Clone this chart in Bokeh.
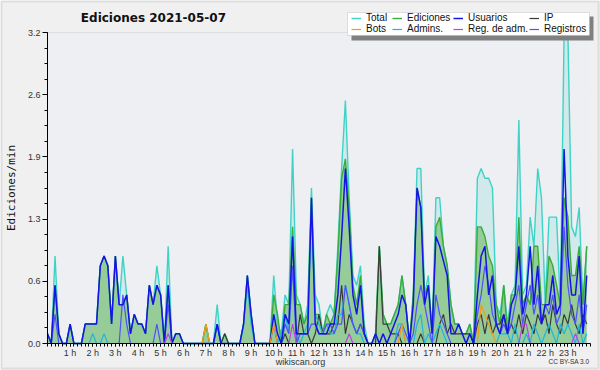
from bokeh.plotting import figure
from bokeh.models import (Range1d, FixedTicker, NumeralTickFormatter, Legend,
                          LegendItem, Label, BoxAnnotation, ColumnDataSource)
from bokeh.embed import file_html
from bokeh.resources import INLINE

# 10-minute slots of the day 2021-05-07 (edits per minute)
slot_minutes = list(range(0, 1440, 10))

total = [
    0.1, 0.0, 0.9, 0.1, 0.0, 0.0,
    0.2, 0.0, 0.0, 0.0, 0.2, 0.2,
    0.2, 0.2, 0.8, 0.9, 0.8, 0.2,
    0.9, 0.4, 0.9, 0.5, 0.1, 0.3,
    0.2, 0.2, 0.1, 0.6, 0.4, 0.8,
    0.5, 0.0, 1.0, 0.0, 0.1, 0.1,
    0.0, 0.0, 0.0, 0.0, 0.0, 0.0,
    0.2, 0.0, 0.0, 0.4, 0.0, 0.1,
    0.0, 0.0, 0.0, 0.0, 0.2, 0.7,
    0.3, 0.0, 0.0, 0.0, 0.0, 0.0,
    0.7, 0.2, 0.1, 0.5, 0.4, 2.0,
    0.5, 0.4, 0.2, 0.4, 1.6, 0.5,
    0.4, 0.1, 0.3, 0.4, 0.3, 1.0,
    1.8, 2.5, 1.5, 0.7, 0.6, 0.8,
    0.2, 0.0, 0.0, 0.1, 1.0, 0.3,
    0.2, 0.2, 0.3, 0.4, 0.7, 0.4,
    0.0, 0.5, 1.8, 1.8, 0.5, 0.7,
    0.1, 1.5, 1.5, 1.0, 0.8, 0.4,
    0.2, 0.2, 0.1, 0.1, 0.2, 0.0,
    1.7, 1.8, 1.7, 1.7, 1.6, 0.4,
    0.3, 0.6, 0.2, 0.5, 0.6, 2.3,
    0.5, 0.6, 1.3, 1.0, 1.8, 1.5,
    0.4, 1.3, 1.3, 1.3, 0.4, 3.2,
    3.2, 1.2, 1.1, 1.4, 0.4, 1.0,
]

ediciones = [
    0.1, 0.0, 0.6, 0.1, 0.0, 0.0,
    0.2, 0.0, 0.0, 0.0, 0.2, 0.2,
    0.2, 0.2, 0.8, 0.9, 0.8, 0.2,
    0.9, 0.4, 0.4, 0.5, 0.1, 0.3,
    0.2, 0.2, 0.1, 0.6, 0.4, 0.6,
    0.5, 0.0, 0.6, 0.0, 0.1, 0.1,
    0.0, 0.0, 0.0, 0.0, 0.0, 0.0,
    0.2, 0.0, 0.0, 0.2, 0.0, 0.1,
    0.0, 0.0, 0.0, 0.0, 0.2, 0.7,
    0.3, 0.0, 0.0, 0.0, 0.0, 0.0,
    0.5, 0.3, 0.0, 0.4, 0.4, 1.2,
    0.4, 0.4, 0.2, 0.3, 1.5, 0.3,
    0.3, 0.1, 0.3, 0.2, 0.3, 0.9,
    1.7, 1.9, 1.4, 0.6, 0.4, 0.7,
    0.1, 0.0, 0.0, 0.1, 1.0, 0.3,
    0.2, 0.2, 0.3, 0.4, 0.7, 0.4,
    0.0, 0.5, 1.6, 1.4, 0.5, 0.6,
    0.1, 1.2, 1.3, 1.0, 0.8, 0.4,
    0.2, 0.2, 0.1, 0.1, 0.2, 0.0,
    1.2, 1.2, 1.1, 0.9, 0.8, 0.4,
    0.2, 0.6, 0.1, 0.5, 0.5, 1.3,
    0.4, 0.5, 0.4, 1.0, 1.0, 0.4,
    0.4, 0.9, 0.8, 0.6, 0.4, 1.5,
    1.3, 0.7, 0.7, 1.0, 0.4, 1.0,
]

usuarios = [
    0.1, 0.0, 0.6, 0.1, 0.0, 0.0,
    0.2, 0.0, 0.0, 0.0, 0.2, 0.2,
    0.2, 0.2, 0.8, 0.9, 0.8, 0.2,
    0.9, 0.4, 0.4, 0.5, 0.1, 0.3,
    0.2, 0.2, 0.1, 0.6, 0.4, 0.6,
    0.5, 0.0, 0.6, 0.0, 0.1, 0.1,
    0.0, 0.0, 0.0, 0.0, 0.0, 0.0,
    0.0, 0.0, 0.0, 0.2, 0.0, 0.0,
    0.0, 0.0, 0.0, 0.0, 0.2, 0.7,
    0.3, 0.0, 0.0, 0.0, 0.0, 0.0,
    0.3, 0.1, 0.0, 0.3, 0.2, 1.1,
    0.1, 0.1, 0.1, 0.1, 1.5, 0.2,
    0.1, 0.1, 0.1, 0.2, 0.2, 0.5,
    1.1, 1.8, 1.2, 0.5, 0.3, 0.6,
    0.1, 0.0, 0.0, 0.1, 0.0, 0.1,
    0.0, 0.1, 0.2, 0.3, 0.5, 0.4,
    0.0, 0.4, 1.6, 1.4, 0.4, 0.6,
    0.1, 1.1, 1.0, 0.85, 0.7, 0.1,
    0.1, 0.2, 0.1, 0.0, 0.1, 0.0,
    0.5, 0.9, 1.0, 0.5, 0.7, 0.2,
    0.1, 0.3, 0.1, 0.4, 0.5, 1.0,
    0.3, 0.5, 1.0, 0.4, 0.8, 0.2,
    0.4, 0.4, 0.7, 0.3, 0.4, 2.0,
    0.9, 0.5, 0.5, 0.9, 0.1, 0.7,
]

ip = [
    0.0, 0.0, 0.0, 0.0, 0.0, 0.0,
    0.0, 0.0, 0.0, 0.0, 0.0, 0.0,
    0.0, 0.0, 0.0, 0.0, 0.0, 0.0,
    0.0, 0.0, 0.0, 0.0, 0.0, 0.0,
    0.0, 0.0, 0.0, 0.0, 0.0, 0.0,
    0.0, 0.0, 0.0, 0.0, 0.0, 0.0,
    0.0, 0.0, 0.0, 0.0, 0.0, 0.0,
    0.0, 0.0, 0.0, 0.0, 0.0, 0.1,
    0.0, 0.0, 0.0, 0.0, 0.0, 0.0,
    0.0, 0.0, 0.0, 0.0, 0.0, 0.0,
    0.0, 0.0, 0.0, 0.1, 0.0, 0.0,
    0.0, 0.3, 0.1, 0.1, 0.0, 0.1,
    0.3, 0.1, 0.1, 0.1, 0.2, 0.2,
    0.6, 0.1, 0.3, 0.2, 0.1, 0.2,
    0.1, 0.0, 0.0, 0.0, 1.0, 0.2,
    0.2, 0.1, 0.1, 0.1, 0.0, 0.0,
    0.0, 0.0, 0.0, 0.1, 0.0, 0.0,
    0.0, 0.0, 0.2, 0.3, 0.1, 0.2,
    0.1, 0.1, 0.1, 0.1, 0.1, 0.0,
    0.2, 0.3, 0.1, 0.3, 0.1, 0.2,
    0.2, 0.3, 0.1, 0.2, 0.1, 0.3,
    0.1, 0.3, 0.2, 0.1, 0.3, 0.2,
    0.3, 0.1, 0.4, 0.2, 0.1, 0.3,
    0.2, 0.4, 0.2, 0.1, 0.3, 0.2,
]

bots = [0.0] * 144
bots_spikes = {42: 0.2, 60: 0.2, 94: 0.2, 115: 0.4, 116: 0.3, 117: 0.2, 118: 0.1}

admins = [
    0.0, 0.0, 0.0, 0.0, 0.0, 0.0,
    0.0, 0.0, 0.0, 0.0, 0.0, 0.0,
    0.1, 0.0, 0.0, 0.1, 0.0, 0.0,
    0.0, 0.0, 0.0, 0.0, 0.0, 0.0,
    0.0, 0.0, 0.0, 0.0, 0.0, 0.0,
    0.0, 0.0, 0.0, 0.0, 0.0, 0.0,
    0.0, 0.0, 0.0, 0.0, 0.0, 0.0,
    0.0, 0.0, 0.0, 0.0, 0.0, 0.0,
    0.0, 0.0, 0.0, 0.0, 0.2, 0.6,
    0.2, 0.0, 0.0, 0.0, 0.0, 0.0,
    0.2, 0.0, 0.1, 0.3, 0.1, 0.8,
    0.1, 0.0, 0.1, 0.2, 1.4, 0.3,
    0.2, 0.1, 0.2, 0.1, 0.1, 0.3,
    0.3, 0.6, 0.4, 0.2, 0.1, 0.1,
    0.0, 0.0, 0.0, 0.0, 0.0, 0.0,
    0.0, 0.0, 0.0, 0.2, 0.2, 0.0,
    0.0, 0.0, 0.2, 0.3, 0.0, 0.1,
    0.0, 0.1, 0.2, 0.1, 0.0, 0.0,
    0.0, 0.0, 0.0, 0.0, 0.0, 0.0,
    0.0, 0.0, 0.0, 0.0, 0.0, 0.0,
    0.1, 0.1, 0.1, 0.0, 0.2, 0.0,
    0.0, 0.1, 0.0, 0.2, 0.1, 0.0,
    0.1, 0.2, 0.1, 0.0, 0.2, 0.1,
    0.2, 0.1, 0.0, 0.2, 0.0, 0.1,
]

reg_adm = [0.0] * 144
reg_adm_spikes = {32: 0.1, 65: 0.2, 80: 0.1, 126: 0.2, 127: 0.2, 140: 0.1}

registros = [
    0.0, 0.0, 0.3, 0.0, 0.0, 0.0,
    0.0, 0.0, 0.0, 0.0, 0.0, 0.0,
    0.0, 0.0, 0.0, 0.0, 0.0, 0.0,
    0.0, 0.0, 0.5, 0.2, 0.0, 0.0,
    0.0, 0.0, 0.0, 0.0, 0.0, 0.2,
    0.0, 0.0, 0.4, 0.0, 0.0, 0.0,
    0.0, 0.0, 0.0, 0.0, 0.0, 0.0,
    0.0, 0.0, 0.0, 0.2, 0.0, 0.0,
    0.0, 0.0, 0.0, 0.0, 0.0, 0.0,
    0.0, 0.0, 0.0, 0.0, 0.0, 0.0,
    0.2, 0.0, 0.0, 0.2, 0.1, 0.8,
    0.0, 0.1, 0.1, 0.1, 0.2, 0.2,
    0.1, 0.1, 0.2, 0.2, 0.1, 0.2,
    0.2, 0.6, 0.4, 0.2, 0.1, 0.2,
    0.1, 0.0, 0.0, 0.0, 0.0, 0.0,
    0.0, 0.0, 0.0, 0.1, 0.2, 0.1,
    0.0, 0.1, 0.4, 0.6, 0.4, 0.2,
    0.0, 0.5, 0.3, 0.2, 0.1, 0.0,
    0.0, 0.0, 0.0, 0.0, 0.0, 0.0,
    0.3, 0.5, 0.8, 0.6, 0.3, 0.2,
    0.1, 0.2, 0.1, 0.2, 0.4, 0.6,
    0.2, 0.4, 0.6, 0.3, 0.5, 0.2,
    0.4, 0.3, 0.5, 0.2, 0.3, 1.2,
    0.6, 0.3, 0.2, 0.5, 0.1, 0.4,
]

hour_ticks = list(range(1, 24))
hour_labels = {h: f"{h} h" for h in hour_ticks}
y_ticks = [0.0, 0.64, 1.28, 1.92, 2.56, 3.2]
y_max = 3.2
x_max = 24

for k, v in bots_spikes.items():
    bots[k] = v
for k, v in reg_adm_spikes.items():
    reg_adm[k] = v

src = ColumnDataSource(dict(
    h=[m / 60 for m in slot_minutes], total=total, ediciones=ediciones,
    usuarios=usuarios, ip=ip, bots=bots, admins=admins, reg_adm=reg_adm,
    registros=registros))

FONT = "Liberation Sans"

# The frame covers the whole canvas; axes are pinned with fixed_location so
# every annotation (title, legend, footer) lies inside the frame.
W, H = 600, 370
PLOT_L, PLOT_R, PLOT_T, PLOT_B = 47, 590, 32, 343
sx = (PLOT_R - PLOT_L) / x_max
sy = (PLOT_B - PLOT_T) / y_max
x_lo, x_hi = -PLOT_L / sx, x_max + (W - PLOT_R) / sx
y_lo, y_hi = -(H - PLOT_B) / sy, y_max + PLOT_T / sy

p = figure(width=W, height=H, output_backend="svg", toolbar_location=None,
           x_range=Range1d(x_lo, x_hi), y_range=Range1d(y_lo, y_hi),
           min_border_left=0, min_border_right=0, min_border_top=0,
           min_border_bottom=0)
p.background_fill_color = "#f0f0f0"
p.border_fill_color = "#f0f0f0"
p.outline_line_color = None

# plot area background
p.add_layout(BoxAnnotation(left=0, right=x_max, bottom=0, top=y_max,
                           fill_color="#edeff2", fill_alpha=1, line_color=None,
                           level="underlay"))
# outer frame of the image
p.add_layout(BoxAnnotation(left=1, right=W - 2, bottom=2, top=H - 1,
                           left_units="screen", right_units="screen",
                           bottom_units="screen", top_units="screen",
                           fill_alpha=0, line_color="#b4b4b4", line_width=2))

# grid
if "cross_bounds" in p.ygrid[0].properties():
    p.ygrid.ticker = FixedTicker(ticks=y_ticks[1:])
    p.ygrid.cross_bounds = (0, x_max)
    p.ygrid.grid_line_color = "#cccccc"
    p.ygrid.grid_line_width = 1
else:
    p.ygrid.visible = False
    p.segment(x0=[0] * 5, x1=[x_max] * 5, y0=y_ticks[1:], y1=y_ticks[1:],
              line_color="#cccccc", line_width=1, level="underlay")
p.xgrid.visible = False

# fills
p.varea(x="h", y1=0, y2="total", source=src, fill_color="#40d0c4", fill_alpha=0.16)
p.varea(x="h", y1=0, y2="ediciones", source=src, fill_color="#8fc98f", fill_alpha=0.9)

# lines
r_total = p.line("h", "total", source=src, color="#3ed3c6", line_width=1.4)
r_ed = p.line("h", "ediciones", source=src, color="#3aac3a", line_width=1.4)
r_ip = p.line("h", "ip", source=src, color="#3a3a3a", line_width=1.2)
r_adm = p.line("h", "admins", source=src, color="#1fb6de", line_width=1.2)
r_reg = p.line("h", "registros", source=src, color="#5050ff", line_width=1.2)
r_usu = p.line("h", "usuarios", source=src, color="#1414e6", line_width=1.5)
r_bots = p.line("h", "bots", source=src, color="#f59a1a", line_width=1.2)
r_radm = p.line("h", "reg_adm", source=src, color="#c040e8", line_width=1.2)

# axes
p.xaxis.fixed_location = 0
p.yaxis.fixed_location = 0
p.xaxis.bounds = (0, x_max)
p.yaxis.bounds = (0, y_max)
p.xaxis.ticker = FixedTicker(ticks=hour_ticks,
                             minor_ticks=[m / 60 for m in range(0, 1441, 10)])
p.xaxis.major_label_overrides = hour_labels
p.yaxis.ticker = FixedTicker(ticks=y_ticks, minor_ticks=[k * 0.16 for k in range(21)])
p.yaxis.formatter = NumeralTickFormatter(format="0.0")
for ax in (p.xaxis[0], p.yaxis[0]):
    ax.axis_line_color = "black"
    ax.axis_line_width = 1
    ax.major_tick_line_color = "black"
    ax.minor_tick_line_color = "black"
    ax.major_tick_in = 0
    ax.minor_tick_in = 0
    ax.major_label_text_font = FONT
    ax.major_label_text_font_size = "9px"
    ax.major_label_text_color = "#333333"
p.xaxis.major_tick_out = 3
p.xaxis.minor_tick_out = 3
p.xaxis.major_label_standoff = 1
p.yaxis.major_tick_out = 5
p.yaxis.minor_tick_out = 3
p.yaxis.major_label_standoff = 2
p.yaxis.axis_label = "Ediciones/min"
p.yaxis.axis_label_text_font = "DejaVu Sans Mono"
p.yaxis.axis_label_text_font_style = "normal"
p.yaxis.axis_label_text_font_size = "11px"
p.yaxis.axis_label_text_color = "#111111"
p.yaxis.axis_label_standoff = 7

# legend: shadow, box, then one two-row legend per column
p.add_layout(BoxAnnotation(left=351, right=593, bottom=H - 40, top=H - 16,
                           left_units="screen", right_units="screen",
                           bottom_units="screen", top_units="screen",
                           fill_color="#808080", fill_alpha=1, line_color=None))
p.add_layout(BoxAnnotation(left=347, right=589, bottom=H - 35, top=H - 12,
                           left_units="screen", right_units="screen",
                           bottom_units="screen", top_units="screen",
                           fill_color="white", fill_alpha=1,
                           line_color="#a0a0a0", line_width=1))

columns = [
    (351, [("Total", r_total), ("Bots", r_bots)]),
    (392, [("Ediciones", r_ed), ("Admins.", r_adm)]),
    (453, [("Usuarios", r_usu), ("Reg. de adm.", r_radm)]),
    (529, [("IP", r_ip), ("Registros", r_reg)]),
]
for left, entries in columns:
    lg = Legend(items=[LegendItem(label=t, renderers=[r]) for t, r in entries],
                location=(left, H - 34), orientation="vertical")
    lg.label_text_font = FONT
    lg.label_text_font_size = "10px"
    lg.label_text_color = "#111111"
    lg.label_height = 10
    lg.glyph_height = 10
    lg.glyph_width = 10
    lg.label_standoff = 5
    lg.spacing = 0
    lg.padding = 0
    lg.margin = 0
    lg.border_line_color = None
    lg.background_fill_alpha = 0
    p.add_layout(lg)

# title and footer
p.add_layout(Label(x=155, y=H - 17, x_units="screen", y_units="screen",
                   text="Ediciones  2021-05-07", text_font="DejaVu Sans",
                   text_font_style="bold", text_font_size="12px",
                   text_align="center", text_baseline="middle", text_color="#111111"))
p.add_layout(Label(x=300, y=H - 361, x_units="screen", y_units="screen",
                   text="wikiscan.org", text_font=FONT, text_font_size="9px",
                   text_align="center", text_baseline="middle", text_color="#333333"))
p.add_layout(Label(x=589, y=H - 361, x_units="screen", y_units="screen",
                   text="CC BY-SA 3.0", text_font=FONT, text_font_size="6.5px",
                   text_align="right", text_baseline="middle", text_color="#333333"))

open("out.html", "w").write(file_html(p, INLINE))
